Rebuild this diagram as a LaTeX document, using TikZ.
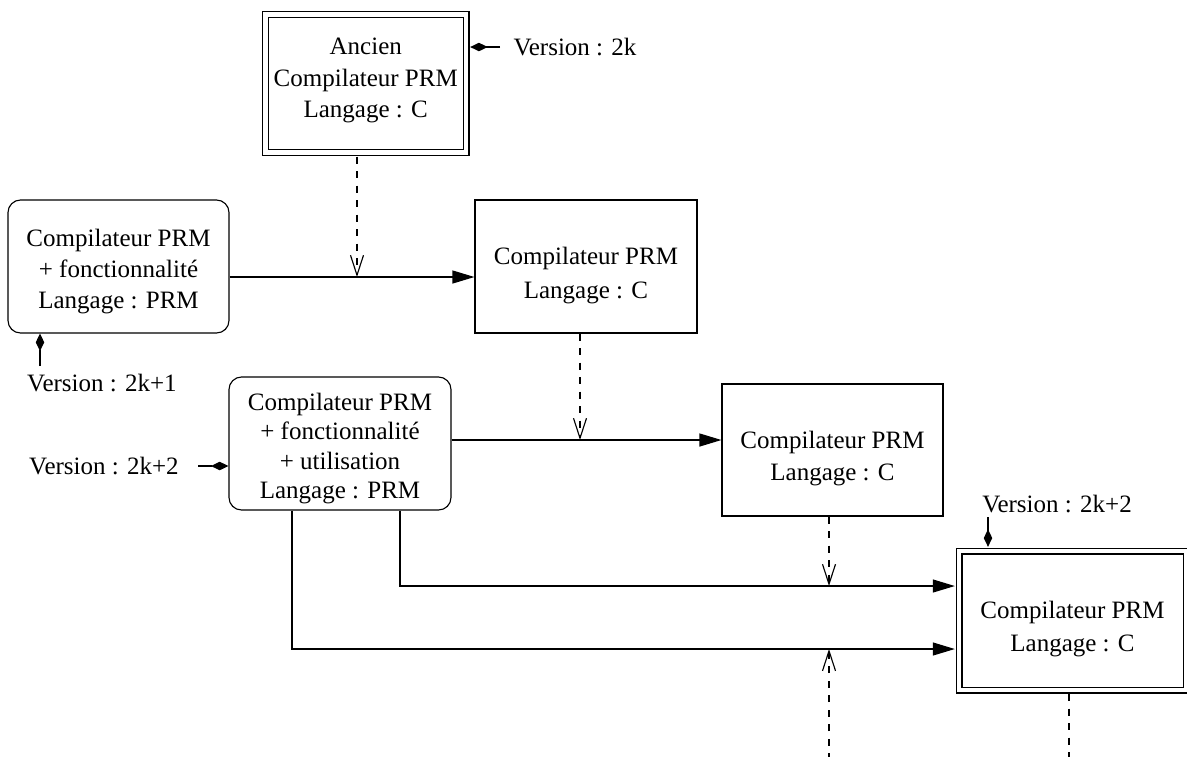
\documentclass[tikz,border=0pt]{standalone}
\usepackage{fontspec}
\setmainfont{LiberationSerif}[Extension=.ttf,UprightFont=*-Regular,BoldFont=*-Bold,ItalicFont=*-Italic,BoldItalicFont=*-BoldItalic]
\usetikzlibrary{arrows.meta,calc}
\begin{document}
\begin{tikzpicture}[x=0.4pt,y=-0.4pt,
  box/.style={draw,line width=0.45pt,inner sep=0pt},
  rbox/.style={box,rounded corners=5pt},
  dbox/.style={box,double,double distance=1.9pt},
  txt/.style 2 args={align=center,inner sep=0pt,font=\fontsize{10}{#1}\selectfont,yshift=#2},
  lbl/.style={font=\fontsize{10}{12}\selectfont,inner sep=1pt},
  flow/.style={draw,line width=0.45pt,-{Triangle[length=8.8pt,width=5.2pt]}},
  dep/.style={draw,line width=0.45pt,dash pattern=on 2.8pt off 3pt,-{Straight Barb[length=8pt,width=5.2pt]}},
  depline/.style={draw,line width=0.45pt,dash pattern=on 2.8pt off 3pt},
  ver/.style={draw,line width=0.45pt,-{Diamond[length=7pt,width=3.4pt]}},
  ]
\useasboundingbox (0,0) rectangle (1187,756);
% boxes
\node[dbox,minimum width=80.2pt,minimum height=55.2pt,
  label={[txt={12.6pt}{1.2pt}]center:{Ancien\\Compilateur PRM\\Langage : C}}] (A) at (365.75,83.5) {};
\node[rbox,minimum width=88.4pt,minimum height=53.2pt,
  label={[txt={12.4pt}{-2.2pt}]center:{Compilateur PRM\\+ fonctionnalité\\Langage : PRM}}] (B) at (118.5,266.5) {};
\node[box,minimum width=88.8pt,minimum height=53.2pt,
  label={[txt={13.6pt}{-3.6pt}]center:{Compilateur PRM\\Langage : C}}] (C) at (586,266.5) {};
\node[rbox,minimum width=88.8pt,minimum height=53.2pt,
  label={[txt={11.7pt}{-2pt}]center:{Compilateur PRM\\+ fonctionnalité\\+ utilisation\\Langage : PRM}}] (E) at (340,443.5) {};
\node[box,minimum width=88.4pt,minimum height=52.8pt,
  label={[txt={12.8pt}{-3.4pt}]center:{Compilateur PRM\\Langage : C}}] (D) at (832.5,450) {};
\node[dbox,minimum width=90.8pt,minimum height=55.6pt,
  label={[txt={13.2pt}{-3.4pt}]center:{Compilateur PRM\\Langage : C}}] (F) at (1072.5,620.5) {};
% version labels
\node[lbl] (V0) at (575,47) {Version : 2k};
\node[lbl] (V1) at (102,383) {Version : 2k+1};
\node[lbl] (V2) at (104,466) {Version : 2k+2};
\node[lbl] (V3) at (1057,504) {Version : 2k+2};
\coordinate (c0) at (500,47);
\coordinate (c1) at (40,366);
\coordinate (c2) at (198,466);
\coordinate (c3) at (988,517);
\draw[ver,shorten >=1.45pt] (c0) -- (A.east |- c0);
\draw[ver] (c1) -- (B.south -| c1);
\draw[ver] (c2) -- (E.west |- c2);
\draw[ver,shorten >=1.45pt] (c3) -- (F.north -| c3);
% junctions
\coordinate (j1) at (357,277);
\coordinate (j2) at (580,440);
\coordinate (j3) at (829,586);
\coordinate (j4) at (829,649);
\coordinate (k1) at (400,586);
\coordinate (k2) at (292,649);
\coordinate (b1) at (829,760);
\coordinate (b2) at (1069,760);
% flows
\draw[flow] (B.east |- j1) -- (C.west |- j1);
\draw[flow] (E.east |- j2) -- (D.west |- j2);
\draw[flow,shorten >=1.45pt] (E.south -| k1) |- (F.west |- j3);
\draw[flow,shorten >=1.45pt] (E.south -| k2) |- (F.west |- j4);
% dependencies
\draw[dep,shorten <=1.45pt] (A.south -| j1) -- (j1);
\draw[dep] (C.south -| j2) -- (j2);
\draw[dep] (D.south -| j3) -- (j3);
\draw[dep] (b1) -- (j4);
\draw[depline,shorten <=1.45pt] (F.south -| b2) -- (b2);
\end{tikzpicture}
\end{document}
